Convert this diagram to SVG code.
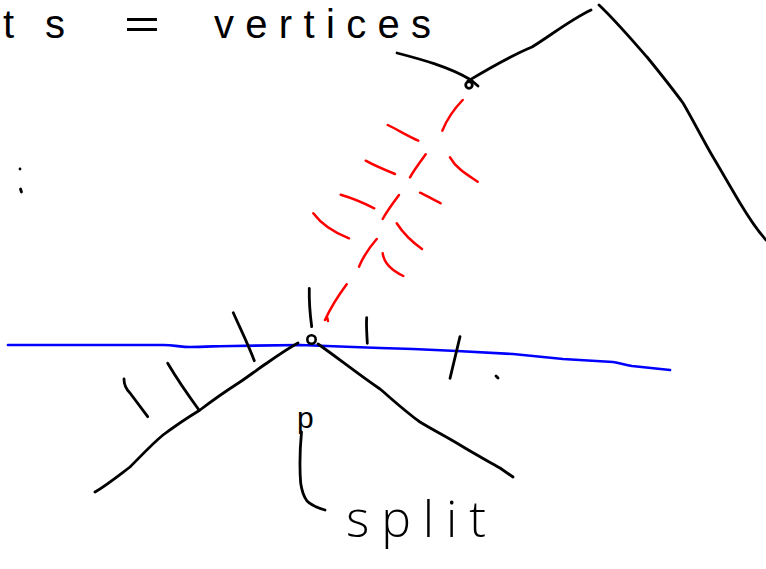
<svg xmlns="http://www.w3.org/2000/svg" width="766" height="569" viewBox="0 0 766 569">
<style>
.k{fill:none;stroke:#000;stroke-width:2.8;stroke-linecap:round;stroke-linejoin:round}
.r{fill:none;stroke:#f00;stroke-width:2.5;stroke-linecap:round;stroke-linejoin:round}
.b{fill:none;stroke:#00f;stroke-width:2.7;stroke-linecap:round;stroke-linejoin:round}
.t{font-family:"Open Sans","Liberation Sans",sans-serif;font-weight:300;fill:#000}
.h{font-family:"Liberation Sans",Arial,sans-serif;font-weight:400;fill:#000}
</style>
<rect width="766" height="569" fill="#fff"/>
<g id="title">
<text class="h" x="3" y="38" font-size="40" textLength="62" lengthAdjust="spacing">ts</text>
<text class="h" x="124" y="38" font-size="40" textLength="36" lengthAdjust="spacingAndGlyphs">=</text>
<text class="h" x="214" y="38" font-size="40" textLength="217" lengthAdjust="spacing">vertices</text>
</g>
<g id="marks">
<circle cx="20" cy="169" r="1.4" fill="#000"/>
<path class="k" d="M20.5 189 L21.5 192" stroke-width="2.2"/>
<path class="k" d="M496 376 L498 378" stroke-width="2.2"/>
</g>
<g id="upper-polygon">
<path class="k" d="M397 53 C420 59 450 67 471 80 L478 86"/>
<path class="k" d="M468 81 C490 68 510 56 532 47 C550 36 570 20 591 10"/>
<path class="k" d="M599 5 C615 20 632 40 647 57 C660 73 672 88 683 103 C693 120 703 140 713 157 C722 172 731 188 740 203 C749 218 757 230 766 240"/>
<circle cx="469" cy="85" r="3.3" fill="none" stroke="#000" stroke-width="2.8"/>
</g>
<g id="rays">
<path class="r" d="M462.7 100 C455 108 447 119 442.3 130.7"/>
<path class="r" d="M387.7 125 C398 130 408 136 418.3 140.7"/>
<path class="r" d="M425.7 154.3 C420 162 414 170 410 177.3"/>
<path class="r" d="M450 157.3 C456 168 466 174 477.7 181.7"/>
<path class="r" d="M365.7 160.7 C375 166 385 170 395 174"/>
<path class="r" d="M340.7 194.7 C352 198 364 203 374.3 208.3"/>
<path class="r" d="M420 192.7 C427 196 434 200 440.7 203.3"/>
<path class="r" d="M399 195 C393 203 387 211 382.7 219"/>
<path class="r" d="M313.3 213.3 C322 225 335 233 349 238.3"/>
<path class="r" d="M396.7 223.3 C403 233 412 242 422 249"/>
<path class="r" d="M376.7 239 C369 248 363 257 359 266.7"/>
<path class="r" d="M382.7 253.3 C384 264 393 271 403.3 276"/>
<path class="r" d="M346.7 284.3 C338 296 331 307 325 320 M327 317 L328 321"/>
</g>
<g id="sweep-line">
<path class="b" d="M8 345 L163 345 C175 345 180 347 190 347 C205 347 220 346 233 346 L300 345 L380 348 L413 349 L457 351 L513 354 L563 359 L613 362 C620 363 625 365 632 366 L670 370"/>
</g>
<g id="lower-polygon">
<path class="k" d="M95 492 C107 485 118 476 130 467 C141 456 152 444 163 435 C175 426 187 418 200 410 C213 400 226 391 240 382 C249 376 258 369 267 363 C277 356 287 349 298 343"/>
<path class="k" d="M318 344 C338 358 358 374 380 389 C393 400 406 412 420 422 C433 430 447 437 460 445 C473 453 486 460 500 468 L513 477"/>
<circle cx="311.5" cy="339.5" r="4.2" fill="none" stroke="#000" stroke-width="2.6"/>
</g>
<g id="ticks">
<path class="k" d="M309.3 288.3 C309 300 310 314 311.7 326.7"/>
<path class="k" d="M366.7 317.7 C366 326 367 335 367.3 343.3"/>
<path class="k" d="M460 336.7 L450 378.3"/>
<path class="k" d="M233.3 312.7 C240 328 248 344 254.3 360.7"/>
<path class="k" d="M167.7 363.3 C177 379 188 395 199 410"/>
<path class="k" d="M124 379 C124 384 126 389 130 393 C136 401 142 409 147.7 416.7"/>
</g>
<g id="p-label">
<text class="h" x="297" y="428" font-size="30">p</text>
<path class="k" d="M301.5 432 C300 448 299.5 468 300.7 483.3 C302 492 304 497 307 501 C312 506 318 508 325 510"/>
</g>
<g id="split-label">
<text class="t" x="346" y="537" font-size="50" textLength="140" lengthAdjust="spacing">split</text>
</g>
</svg>
